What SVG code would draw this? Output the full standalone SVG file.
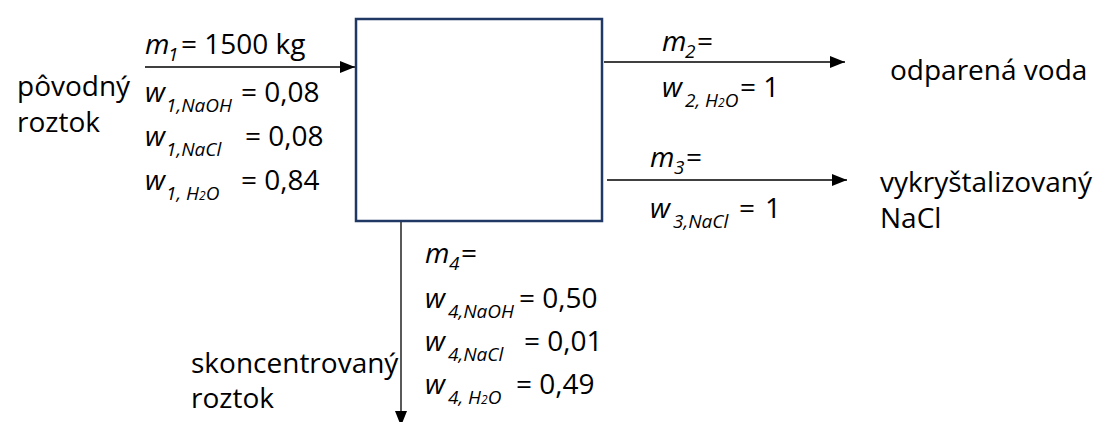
<svg xmlns="http://www.w3.org/2000/svg" width="1097" height="422" viewBox="0 0 1097 422">
<style>
.t{font-family:"Open Sans","Liberation Sans",sans-serif;font-size:28px;fill:#000}
.i{font-style:italic}
.s{font-size:19px;font-style:italic}
.ss{font-size:12px;font-style:italic}
.ln{stroke:#000;stroke-width:1.3;fill:none}
</style>
<defs>
<marker id="ah" markerUnits="userSpaceOnUse" markerWidth="16" markerHeight="13" refX="15" refY="6" orient="auto">
<path d="M0,0 L15,6 L0,12 z" fill="#000"/>
</marker>
</defs>
<rect width="1097" height="422" fill="#fff"/>

<g id="connectors">
<line class="ln" x1="145" y1="67" x2="355" y2="67" marker-end="url(#ah)"/>
<line class="ln" x1="604" y1="62" x2="845" y2="62" marker-end="url(#ah)"/>
<line class="ln" x1="607" y1="180" x2="847" y2="180" marker-end="url(#ah)"/>
<line class="ln" x1="401" y1="222" x2="401" y2="426" marker-end="url(#ah)"/>
</g>

<g id="process">
<rect x="356" y="19" width="246" height="202" fill="#fff" stroke="#203864" stroke-width="2.5"/>
</g>

<g id="feed">
<text class="t" x="17" y="96">pôvodný</text>
<text class="t" x="17" y="132">roztok</text>
<text class="t"><tspan class="i" x="145" y="54">m</tspan><tspan class="s" x="168" y="61">1</tspan><tspan x="181" y="54">= 1500 kg</tspan></text>
<text class="t"><tspan class="i" x="145" y="102">w</tspan><tspan class="s" x="166" y="112">1,NaOH</tspan><tspan x="241" y="102">= 0,08</tspan></text>
<text class="t"><tspan class="i" x="145" y="146">w</tspan><tspan class="s" x="166" y="156">1,NaCl</tspan><tspan x="245" y="146">= 0,08</tspan></text>
<text class="t"><tspan class="i" x="145" y="190">w</tspan><tspan class="s" x="166" y="200">1, H</tspan><tspan class="ss">2</tspan><tspan class="s">O</tspan><tspan x="241" y="190">= 0,84</tspan></text>
</g>

<g id="vapor">
<text class="t"><tspan class="i" x="662" y="51">m</tspan><tspan class="s" x="685" y="58">2</tspan><tspan x="697" y="51">=</tspan></text>
<text class="t"><tspan class="i" x="662" y="97">w</tspan><tspan class="s" x="685" y="107">2, H</tspan><tspan class="ss">2</tspan><tspan class="s">O</tspan><tspan x="740" y="97">= 1</tspan></text>
<text class="t" x="890" y="80">odparená voda</text>
</g>

<g id="crystals">
<text class="t"><tspan class="i" x="650" y="167">m</tspan><tspan class="s" x="674" y="174">3</tspan><tspan x="686" y="167">=</tspan></text>
<text class="t"><tspan class="i" x="650" y="218">w</tspan><tspan class="s" x="673" y="228">3,NaCl</tspan><tspan x="739" y="218">=</tspan><tspan x="765" y="218">1</tspan></text>
<text class="t" x="880" y="192">vykryštalizovaný</text>
<text class="t" x="880" y="228">NaCl</text>
</g>

<g id="concentrate">
<text class="t"><tspan class="i" x="425" y="263">m</tspan><tspan class="s" x="449" y="270">4</tspan><tspan x="461" y="263">=</tspan></text>
<text class="t"><tspan class="i" x="425" y="308">w</tspan><tspan class="s" x="448" y="318">4,NaOH</tspan><tspan x="519" y="308">= 0,50</tspan></text>
<text class="t"><tspan class="i" x="425" y="351">w</tspan><tspan class="s" x="448" y="361">4,NaCl</tspan><tspan x="524" y="351">= 0,01</tspan></text>
<text class="t"><tspan class="i" x="425" y="394">w</tspan><tspan class="s" x="448" y="404">4, H</tspan><tspan class="ss">2</tspan><tspan class="s">O</tspan><tspan x="516" y="394">= 0,49</tspan></text>
<text class="t" x="191" y="373">skoncentrovaný</text>
<text class="t" x="191" y="408">roztok</text>
</g>
</svg>
